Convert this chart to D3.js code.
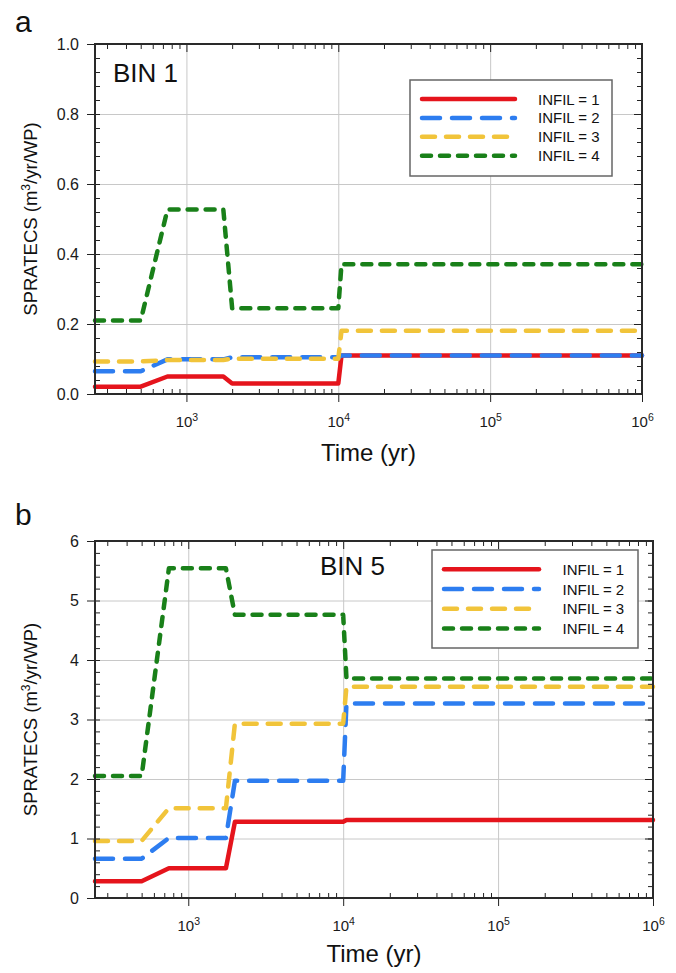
<!DOCTYPE html>
<html>
<head>
<meta charset="utf-8">
<script src="https://cdn.jsdelivr.net/npm/d3@7"></script>
<style>
  body { margin: 0; background: #fff; }
  svg { font-family: 'Liberation Sans', Arial, sans-serif; }
</style>
</head>
<body>
<div id="chart"></div>
<script>
// Time breakpoints (yr) shared by all curves
const timeSteps = [250, 500, 750, 1750, 2000, 10000, 10500, 1000000];
const infilLabels = ['INFIL = 1', 'INFIL = 2', 'INFIL = 3', 'INFIL = 4'];

// BIN 1 (m3/yr/WP)
const bin1Infil1 = [0.021, 0.021, 0.05, 0.05, 0.03, 0.03, 0.11, 0.11];
const bin1Infil2 = [0.065, 0.065, 0.099, 0.099, 0.105, 0.105, 0.11, 0.11];
const bin1Infil3 = [0.093, 0.093, 0.097, 0.097, 0.101, 0.101, 0.181, 0.181];
const bin1Infil4 = [0.21, 0.21, 0.527, 0.527, 0.245, 0.245, 0.371, 0.371];

// BIN 5 (m3/yr/WP)
const bin5Infil1 = [0.28, 0.28, 0.5, 0.5, 1.28, 1.28, 1.31, 1.31];
const bin5Infil2 = [0.66, 0.66, 1.01, 1.01, 1.97, 1.97, 3.27, 3.27];
const bin5Infil3 = [0.96, 0.96, 1.51, 1.51, 2.93, 2.93, 3.55, 3.55];
const bin5Infil4 = [2.05, 2.05, 5.54, 5.54, 4.76, 4.76, 3.69, 3.69];

// tick labels
const xMajorTicks = [1e3, 1e4, 1e5, 1e6];
const bin1YTicks = [0, 0.2, 0.4, 0.6, 0.8, 1.0];
const bin5YTicks = [0, 1, 2, 3, 4, 5, 6];

// line styles, same order as infilLabels
const lineStyles = [
    { color: '#e5141c', dash: null },
    { color: '#2d7df0', dash: '18,12' },
    { color: '#f1c43a', dash: '13,11' },
    { color: '#198019', dash: '9,9' }
];

class StepChart {

    constructor(_config, _series) {
        this.config = _config;
        this.series = _series;
        this.initVis();
        this.renderVis();
    }

    initVis() {
        let vis = this;
        const c = vis.config;
        vis.width = c.width;
        vis.height = c.height;

        vis.xScale = d3.scaleLog().domain([250, 1e6]).range([0, vis.width]);
        vis.yScale = d3.scaleLinear().domain([0, c.yTicks[c.yTicks.length - 1]]).range([vis.height, 0]);

        vis.chart = c.svg.append('g')
            .attr('transform', `translate(${c.left},${c.top})`);

        // panel letter
        c.svg.append('text')
            .attr('x', 15).attr('y', c.letterY)
            .attr('font-size', 30).attr('fill', '#111')
            .text(c.letter);

        // grid
        vis.chart.append('g')
            .attr('class', 'grid')
            .call(d3.axisLeft(vis.yScale).tickValues(c.yTicks.slice(1, -1)).tickSize(-vis.width).tickFormat(''))
            .call(g => g.select('.domain').remove());
        vis.chart.append('g')
            .attr('class', 'grid')
            .call(d3.axisTop(vis.xScale).tickValues(xMajorTicks.slice(0, -1)).tickSize(-vis.height).tickFormat(''))
            .call(g => g.select('.domain').remove());
        vis.chart.selectAll('.grid line').attr('stroke', '#c8c8c8').attr('stroke-width', 1);

        vis.linesG = vis.chart.append('g');
        vis.axesG = vis.chart.append('g');
    }

    renderVis() {
        let vis = this;
        const c = vis.config;

        const line = d3.line()
            .x(d => vis.xScale(d[0]))
            .y(d => vis.yScale(d[1]));

        vis.linesG.selectAll('path')
            .data(vis.series)
            .join('path')
            .attr('d', d => line(timeSteps.map((t, i) => [t, d.values[i]])))
            .attr('fill', 'none')
            .attr('stroke', (d, i) => lineStyles[i].color)
            .attr('stroke-width', 4.5)
            .attr('stroke-linecap', 'round')
            .attr('stroke-linejoin', 'round')
            .attr('stroke-dasharray', (d, i) => lineStyles[i].dash);

        // minor ticks
        const xMinor = vis.xScale.ticks().filter(t => !xMajorTicks.includes(t));
        const yMinor = d3.range(0, c.yTicks[c.yTicks.length - 1] + 1e-9, c.yMinorStep);
        const ax = vis.axesG;

        ax.append('g').call(d3.axisRight(vis.yScale).tickValues(yMinor).tickSize(5).tickFormat(''));
        ax.append('g').attr('transform', `translate(${vis.width},0)`)
            .call(d3.axisLeft(vis.yScale).tickValues(yMinor).tickSize(5).tickFormat(''));
        ax.append('g').attr('transform', `translate(${vis.width},0)`)
            .call(d3.axisLeft(vis.yScale).tickValues(c.yTicks).tickSize(8).tickFormat(''));
        ax.append('g').attr('transform', `translate(0,${vis.height})`)
            .call(d3.axisTop(vis.xScale).tickValues(xMinor).tickSize(5).tickFormat(''));
        ax.append('g')
            .call(d3.axisBottom(vis.xScale).tickValues(xMinor).tickSize(5).tickFormat(''));
        ax.append('g')
            .call(d3.axisBottom(vis.xScale).tickValues(xMajorTicks).tickSize(8).tickFormat(''));

        // labelled axes
        ax.append('g')
            .call(d3.axisLeft(vis.yScale).tickValues(c.yTicks).tickSize(8).tickPadding(8).tickFormat(c.tickFormat))
            .selectAll('text').attr('font-size', 16).attr('fill', '#1a1a1a');

        const xAxisG = ax.append('g').attr('transform', `translate(0,${vis.height})`)
            .call(d3.axisBottom(vis.xScale).tickValues(xMajorTicks).tickSize(8).tickFormat(''));
        xAxisG.selectAll('.tick text')
            .attr('y', 33).attr('dy', null)
            .attr('font-size', 15).attr('fill', '#1a1a1a')
            .each(function (d) {
                const t = d3.select(this);
                t.append('tspan').text('10');
                t.append('tspan').attr('font-size', 10.5).attr('dy', -6).text(Math.round(Math.log10(d)));
            });

        ax.selectAll('.domain').remove();
        ax.selectAll('.tick line').attr('stroke', '#222').attr('stroke-width', 1);

        // frame
        vis.chart.append('rect')
            .attr('width', vis.width).attr('height', vis.height)
            .attr('fill', 'none').attr('stroke', '#2a2a2a').attr('stroke-width', 2);

        // axis titles
        vis.chart.append('text')
            .attr('x', vis.width / 2).attr('y', vis.height + c.xTitleDy)
            .attr('text-anchor', 'middle').attr('font-size', 24).attr('fill', '#111')
            .text('Time (yr)');

        const yTitle = vis.chart.append('text')
            .attr('transform', `translate(${37 - c.left},${vis.height / 2}) rotate(-90)`)
            .attr('text-anchor', 'middle').attr('font-size', 18.5).attr('fill', '#111');
        yTitle.append('tspan').text('SPRATECS (m');
        yTitle.append('tspan').attr('font-size', 12).attr('dy', -7).text('3');
        yTitle.append('tspan').attr('dy', 7).text('/yr/WP)');

        // BIN label
        vis.chart.append('text')
            .attr('x', c.binPos[0]).attr('y', c.binPos[1])
            .attr('font-size', 26).attr('fill', '#111')
            .text(c.binLabel);

        // legend
        const lg = c.legend;
        const legendG = vis.chart.append('g').attr('transform', `translate(${lg.x},${lg.y})`);
        legendG.append('rect')
            .attr('width', lg.w).attr('height', lg.h)
            .attr('fill', '#fff').attr('stroke', '#666').attr('stroke-width', 1.5);
        const rows = legendG.selectAll('g.row')
            .data(infilLabels)
            .join('g')
            .attr('class', 'row')
            .attr('transform', (d, i) => `translate(0,${lg.row0 + i * lg.rowStep})`);
        rows.append('line')
            .attr('x1', 12).attr('x2', 12 + lg.lineLen)
            .attr('stroke', (d, i) => lineStyles[i].color)
            .attr('stroke-width', 4.5)
            .attr('stroke-linecap', 'round')
            .attr('stroke-dasharray', (d, i) => lineStyles[i].dash);
        rows.append('text')
            .attr('x', lg.textX).attr('y', 5.5)
            .attr('font-size', 15).attr('fill', '#111')
            .text(d => d);
    }
}

const svg = d3.select('#chart').append('svg')
    .attr('width', 676).attr('height', 973);

new StepChart({
    svg: svg, left: 95, top: 44, width: 547, height: 350,
    yTicks: bin1YTicks, yMinorStep: 0.04, tickFormat: d3.format('.1f'),
    letter: 'a', letterY: 32, xTitleDy: 67,
    binLabel: 'BIN 1', binPos: [18, 38],
    legend: { x: 315, y: 36, w: 202, h: 96, row0: 19, rowStep: 18.9, lineLen: 93, textX: 128 }
}, [
    { name: infilLabels[0], values: bin1Infil1 },
    { name: infilLabels[1], values: bin1Infil2 },
    { name: infilLabels[2], values: bin1Infil3 },
    { name: infilLabels[3], values: bin1Infil4 }
]);

new StepChart({
    svg: svg, left: 95, top: 541, width: 558, height: 357,
    yTicks: bin5YTicks, yMinorStep: 0.2, tickFormat: d3.format('d'),
    letter: 'b', letterY: 525, xTitleDy: 64,
    binLabel: 'BIN 5', binPos: [225, 34],
    legend: { x: 337, y: 9, w: 206, h: 98, row0: 19.3, rowStep: 19.7, lineLen: 95, textX: 130.6 }
}, [
    { name: infilLabels[0], values: bin5Infil1 },
    { name: infilLabels[1], values: bin5Infil2 },
    { name: infilLabels[2], values: bin5Infil3 },
    { name: infilLabels[3], values: bin5Infil4 }
]);
</script>
</body>
</html>
